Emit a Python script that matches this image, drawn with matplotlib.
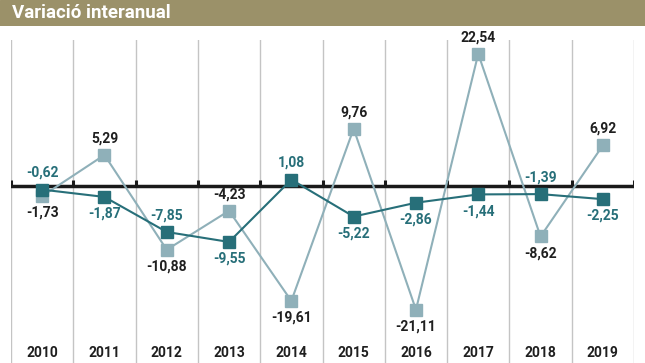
import matplotlib
matplotlib.use("Agg")
import matplotlib.pyplot as plt
from matplotlib import font_manager

years = ["2010", "2011", "2012", "2013", "2014", "2015", "2016", "2017", "2018", "2019"]
dark_vals = [-0.62, -1.87, -7.85, -9.55, 1.08, -5.22, -2.86, -1.44, -1.39, -2.25]
light_vals = [-1.73, 5.29, -10.88, -4.23, -19.61, 9.76, -21.11, 22.54, -8.62, 6.92]
dark_pos = ["above", "below", "above", "below", "above", "below", "below", "below", "above", "below"]
light_pos = ["below", "above", "below", "above", "below", "above", "below", "above", "below", "above"]
title = "Variació interanual"

names = {f.name for f in font_manager.fontManager.ttflist}
fam = ["Liberation Sans Narrow", "DejaVu Sans"] if "Liberation Sans Narrow" in names else ["Roboto", "DejaVu Sans"]
plt.rcParams['font.family'] = fam

W, H = 645, 363
fig = plt.figure(figsize=(W / 100, H / 100), dpi=100)

# title band
band = fig.add_axes([0, 1 - 26 / H, 1, 26 / H])
band.set_axis_off()
band.add_patch(plt.Rectangle((0, 0), 1, 1, color="#9b9169", transform=band.transAxes))
band.text(12 / W, 0.5, title, transform=band.transAxes, color="white",
          fontsize=13.5, fontweight="bold", va="center", ha="left")

ax = fig.add_axes([11 / W, 0, 623 / W, 1 - 40 / H])
ax.set_xlim(-0.5, 9.5)
ax.set_ylim(-30.2, 24.9)
ax.set_axis_off()

x = list(range(len(years)))
for g in range(len(years) + 1):
    ax.axvline(g - 0.5, color="#c4c4c4", lw=1, zorder=0)
ax.axhline(0, color="#1a1a1a", lw=2.5, zorder=1)
for g in range(len(years) + 1):
    ax.plot([g - 0.5, g - 0.5], [0, 1.0], color="#1a1a1a", lw=2.2, zorder=1, solid_capstyle="butt")

dark_c = "#276f79"
light_c = "#8fb0b9"
ax.plot(x, light_vals, color=light_c, lw=1.5, marker="s", ms=8.5, mec=light_c, mfc=light_c, zorder=2)
ax.plot(x, dark_vals, color=dark_c, lw=1.5, marker="s", ms=8.5, mec=dark_c, mfc=dark_c, zorder=3)

def fmt(v):
    return f"{v:.2f}".replace(".", ",")

off = 12
for xi, v, p in zip(x, dark_vals, dark_pos):
    dy = off if p == "above" else -off
    ax.annotate(fmt(v), (xi, v), xytext=(0, dy), textcoords="offset points",
                ha="center", va="center", fontsize=10, fontweight="bold", color=dark_c)
for xi, v, p in zip(x, light_vals, light_pos):
    dy = off if p == "above" else -off
    ax.annotate(fmt(v), (xi, v), xytext=(0, dy), textcoords="offset points",
                ha="center", va="center", fontsize=10, fontweight="bold", color="#1f1f1f")

for xi, yr in zip(x, years):
    ax.text(xi, 0.03, yr, transform=ax.get_xaxis_transform(), ha="center", va="center",
            fontsize=10, fontweight="bold", color="#1f1f1f")

fig.savefig("out.png", dpi=100)
